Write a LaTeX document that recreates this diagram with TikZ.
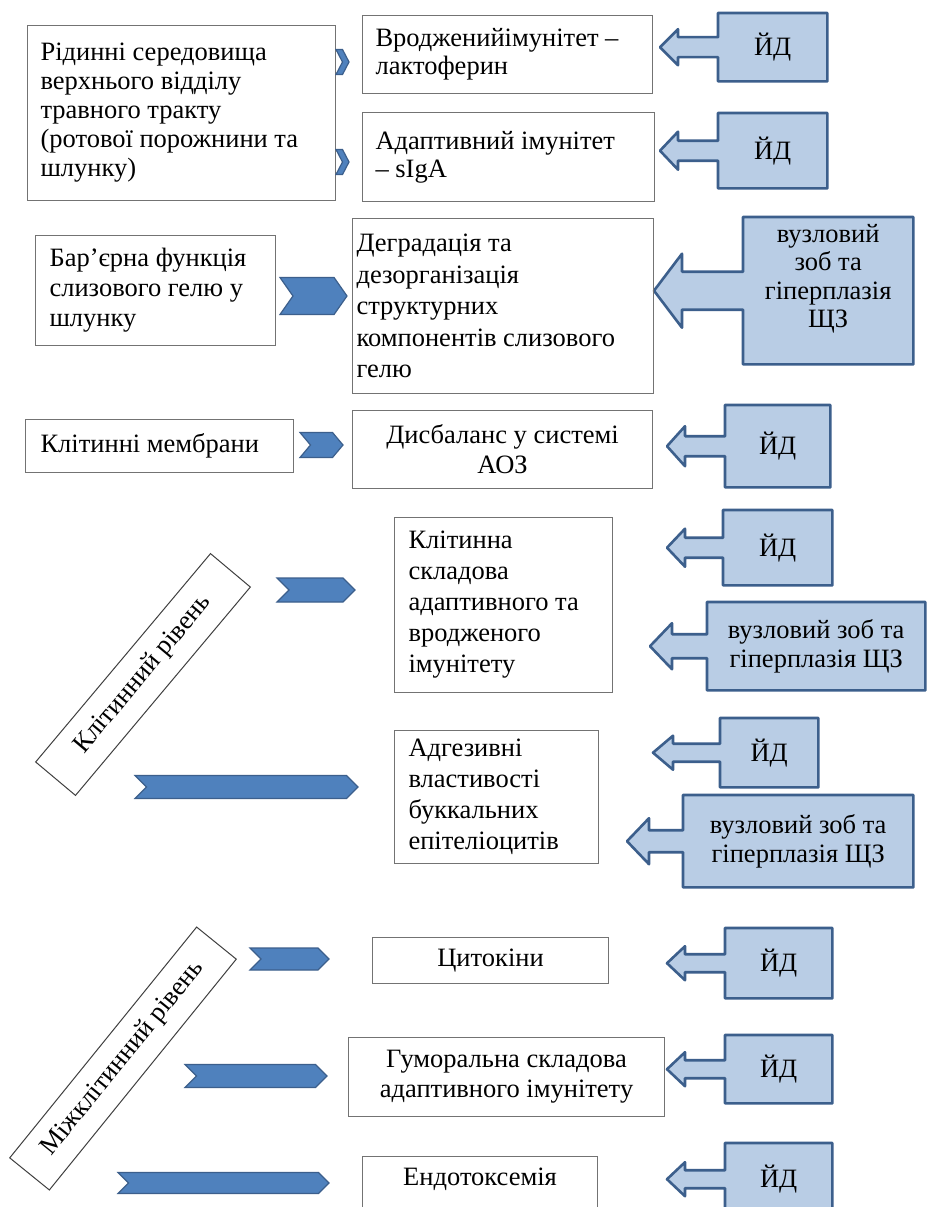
\documentclass[tikz,border=0pt]{standalone}
\usepackage{fontspec}
\setmainfont{Liberation Serif}
\usetikzlibrary{calc,positioning,shapes.symbols,backgrounds}

\definecolor{chevblue}{RGB}{79,129,189}
\definecolor{chevline}{RGB}{60,95,140}
\definecolor{callfill}{RGB}{185,205,229}
\definecolor{boxgray}{RGB}{115,115,115}

\tikzset{
  txtbox/.style={draw=boxgray, line width=1.1pt, anchor=north west, align=flush left,
    inner ysep=0pt, font=\fontsize{26.5}{30}\selectfont},
  ctrbox/.style={txtbox, align=flush center, inner xsep=0pt},
  lvlbox/.style={draw=black!75, line width=1pt, inner sep=0pt, align=center,
    font=\fontsize{26.5}{30}\selectfont},
  chev/.style={signal, signal from=west, signal to=east, fill=chevblue,
    draw=chevline, line width=1.2pt, inner sep=0pt, signal pointer angle=90},
  idtext/.style={anchor=north west, inner sep=0pt, align=flush center,
    font=\fontsize{26.5}{29}\selectfont},
  calloutline/.style={fill=callfill, draw=chevline, line width=2.6pt, line join=round}
}

% callout arrow: node, arrow length, head length, head half height, shaft half height
\newcommand{\idarrow}[5]{%
  \begin{scope}[on background layer]
  \draw[calloutline] (#1.north west) -- (#1.north east) -- (#1.south east) -- (#1.south west)
    -- ($(#1.west)+(0,#5)$) -- ($(#1.west)+(#3-#2,#5)$) -- ($(#1.west)+(#3-#2,#4)$)
    -- ($(#1.west)+(-#2,0)$)
    -- ($(#1.west)+(#3-#2,-#4)$) -- ($(#1.west)+(#3-#2,-#5)$) -- ($(#1.west)+(0,-#5)$) -- cycle;
  \end{scope}}

\begin{document}
\begin{tikzpicture}[x=1pt,y=-1pt]
\begin{scope}[on background layer]
\fill[white] (0,0) rectangle (927,1207);
\end{scope}
\useasboundingbox (0,0) rectangle (927,1207);

% text boxes
\node[txtbox, minimum width=308, minimum height=175, inner xsep=13pt, text width=282pt, font=\fontsize{26.5}{29}\selectfont]
  (fluids) at (27,25) {Рідинні середовища\\ верхнього відділу\\ травного тракту\\ (ротової~порожнини~та\\ шлунку)};
\node[txtbox, minimum width=290, minimum height=78, inner xsep=13pt, text width=264pt, font=\fontsize{26.5}{28}\selectfont]
  (innate) at (362,15) {Вродженийімунітет~–\\ лактоферин};
\node[txtbox, minimum width=292, minimum height=89, inner xsep=13pt, text width=266pt, font=\fontsize{26.5}{28}\selectfont]
  (adapt) at (362,112) {Адаптивний~імунітет\\ – sIgA};
\node[txtbox, minimum width=240, minimum height=110, inner xsep=14pt, text width=212pt]
  (barrier) at (35,235) {Бар’єрна функція\\ слизового гелю у\\ шлунку};
\node[txtbox, minimum width=301, minimum height=175, inner xsep=4pt, text width=293pt, font=\fontsize{26.5}{31.5}\selectfont]
  (degrad) at (352,218) {Деградація та\\ дезорганізація\\ структурних\\ компонентів~слизового\\ гелю};
\node[txtbox, minimum width=268, minimum height=53, inner xsep=15pt, text width=238pt]
  (membr) at (25,419) {Клітинні~мембрани};
\node[ctrbox, minimum width=300, minimum height=78]
  (aoz) at (352,410) {Дисбаланс у системі\\ АОЗ};
\node[txtbox, minimum width=218, minimum height=175, inner xsep=14pt, text width=190pt, font=\fontsize{26.5}{31}\selectfont]
  (cellimm) at (394,517) {Клітинна\\ складова\\ адаптивного~та\\ вродженого\\ імунітету};
\node[txtbox, minimum width=204, minimum height=133, inner xsep=14pt, text width=176pt, font=\fontsize{26.5}{31}\selectfont]
  (adhes) at (394,730) {Адгезивні\\ властивості\\ буккальних\\ епітеліоцитів};
\node[ctrbox, minimum width=236, minimum height=46]
  (cytok) at (372,937) {Цитокіни};
\node[ctrbox, minimum width=316, minimum height=79]
  (humor) at (348,1037) {Гуморальна складова\\ адаптивного імунітету};
\node[ctrbox, minimum width=235, minimum height=64, text depth=23pt]
  (endotox) at (362,1156) {Ендотоксемія};

% levels
\node[lvlbox, minimum width=272, minimum height=52, rotate=50] (cellvl) at (143,674.5) {Клітинний рівень};
\node[lvlbox, minimum width=297, minimum height=51, rotate=51] (intlvl) at (123,1058.5) {Міжклітинний рівень};

% chevrons
\node[chev, minimum width=13, minimum height=25, signal pointer angle=125] (ch1) at (342.5,62) {};
\node[chev, minimum width=13, minimum height=25, signal pointer angle=125] (ch2) at (342.5,162) {};
\node[chev, minimum width=67, minimum height=37, signal pointer angle=110] (ch3) at (313.5,296) {};
\node[chev, minimum width=43, minimum height=25, signal pointer angle=100] (ch4) at (321.5,445) {};
\node[chev, minimum width=78, minimum height=24] (ch5) at (316,590) {};
\node[chev, minimum width=223, minimum height=23] (ch6) at (246.5,787) {};
\node[chev, minimum width=79, minimum height=22] (ch7) at (289.5,959) {};
\node[chev, minimum width=142, minimum height=23] (ch8) at (256,1076) {};
\node[chev, minimum width=211, minimum height=21] (ch9) at (223.5,1183) {};

% callouts
\node[idtext, minimum width=109, minimum height=68] (id1) at (718,13) {ЙД};
\idarrow{id1}{58}{18}{18}{10}
\node[idtext, minimum width=109, minimum height=75] (id2) at (718,113) {ЙД};
\idarrow{id2}{58}{18}{19}{10}
\node[idtext, minimum width=170, minimum height=147, text depth=30pt, font=\fontsize{26.5}{28.5}\selectfont] (goit1) at (743,217) {вузловий\\ зоб та\\ гіперплазія\\ ЩЗ};
\idarrow{goit1}{89}{28}{37}{19}
\node[idtext, minimum width=105, minimum height=82] (id3) at (725,405) {ЙД};
\idarrow{id3}{58}{18}{20}{10}
\node[idtext, minimum width=109, minimum height=75] (id4) at (723,510) {ЙД};
\idarrow{id4}{56}{18}{19}{10}
\node[idtext, minimum width=218, minimum height=88] (goit2) at (707,602) {вузловий зоб та\\ гіперплазія ЩЗ};
\idarrow{goit2}{57}{22}{23}{12}
\node[idtext, minimum width=98, minimum height=69] (id5) at (720,718) {ЙД};
\idarrow{id5}{67}{20}{17}{9}
\node[idtext, minimum width=230, minimum height=92] (goit3) at (683,795) {вузловий зоб та\\ гіперплазія ЩЗ};
\idarrow{goit3}{56}{22}{23}{11}
\node[idtext, minimum width=107, minimum height=70] (id6) at (725,928) {ЙД};
\idarrow{id6}{58}{18}{17}{9}
\node[idtext, minimum width=107, minimum height=68] (id7) at (725,1035) {ЙД};
\idarrow{id7}{58}{18}{17}{9}
\node[idtext, minimum width=107, minimum height=72] (id8) at (725,1143) {ЙД};
\idarrow{id8}{58}{18}{17}{9}
\end{tikzpicture}
\end{document}
